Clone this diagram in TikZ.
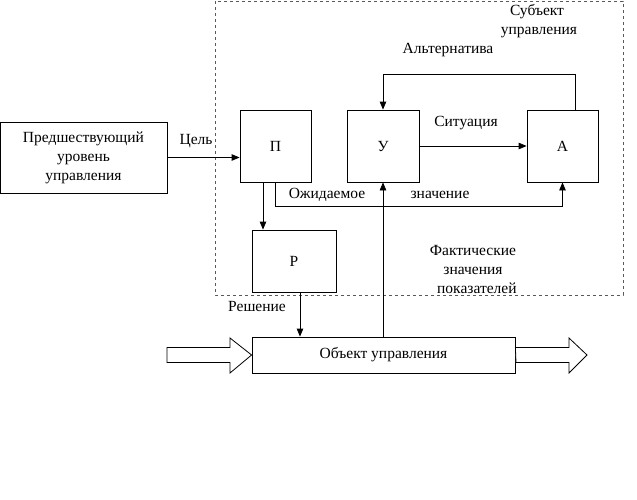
\documentclass[tikz,border=0pt]{standalone}
\usepackage{fontspec}
\setmainfont{Liberation Serif}
\usetikzlibrary{arrows.meta}
\begin{document}
\begin{tikzpicture}[x=1pt,y=-1pt,
  font=\fontsize{15.5}{19}\selectfont,
  box/.style={draw,line width=0.8pt,inner sep=0pt,align=center},
  conn/.style={line width=0.8pt,-{Triangle[length=8pt,width=6.5pt]}},
  lbl/.style={inner sep=0pt,align=center},
  blockarrow/.style={draw,line width=0.8pt,fill=white}]
\useasboundingbox (0,0) rectangle (637,499);
\draw[dashed,gray!70!black,line width=0.8pt,dash pattern=on 3pt off 3pt] (215,1) rectangle (623,295);
\node[box,minimum width=167pt,minimum height=71pt] (prev) at (83.5,157.5) {Предшествующий\\уровень\\управления};
\node[box,minimum width=71pt,minimum height=72pt] (P) at (275.5,146) {П};
\node[box,minimum width=72pt,minimum height=72pt] (U) at (383,146) {У};
\node[box,minimum width=71pt,minimum height=72pt] (A) at (562.5,146) {А};
\node[box,minimum width=84pt,minimum height=62pt] (R) at (294,261) {Р};
\node[box,minimum width=263pt,minimum height=36pt] (Obj) at (383.5,355) {Объект управления};
% block arrows
\coordinate (inL) at (167,355);
\coordinate (outR) at (587,355);
\draw[blockarrow] (inL) ++(0,-7.5) -- (230,347.5) -- (230,338) -- (Obj.west) -- (230,373) -- (230,362.5) -- (167,362.5) -- cycle;
\draw[blockarrow] (Obj.east) ++(0,-7.5) -- (569,347.5) -- (569,338) -- (outR) -- (569,373) -- (569,362.5) -- (516,362.5) -- cycle;
% connectors
\draw[conn] (prev.east) -- (prev.east -| P.west);
\draw[conn] ([xshift=-12.5pt]P.south) -- ([xshift=-12.5pt]P.south |- R.north);
\draw[conn] (P.south) -- ++(0,24) -| (A.south);
\draw[conn] (U.east) -- (A.west);
\draw[conn] ([xshift=12.5pt]A.north) -- ++(0,-35) -| (U.north);
\draw[conn] (Obj.north -| U.south) -- (U.south);
\draw[conn] ([xshift=6pt]R.south) -- ([xshift=6pt]R.south |- Obj.north);
% labels
\node[lbl] (lcel) at (196,141) {Цель};
\node[lbl] (lsit) at (466,123) {Ситуация};
\node[lbl] (lalt) at (448,50) {Альтернатива};
\node[lbl] (lsub) at (537,21) {Субъект\\ \ управления};
\node[lbl] (lozh) at (327,195) {Ожидаемое};
\node[lbl] (lzn) at (440,195) {значение};
\node[lbl] (lfakt) at (473,269) {Фактические\\значения\\ \ \ показателей};
\node[lbl] (lres) at (257,306) {Решение};
\end{tikzpicture}
\end{document}
